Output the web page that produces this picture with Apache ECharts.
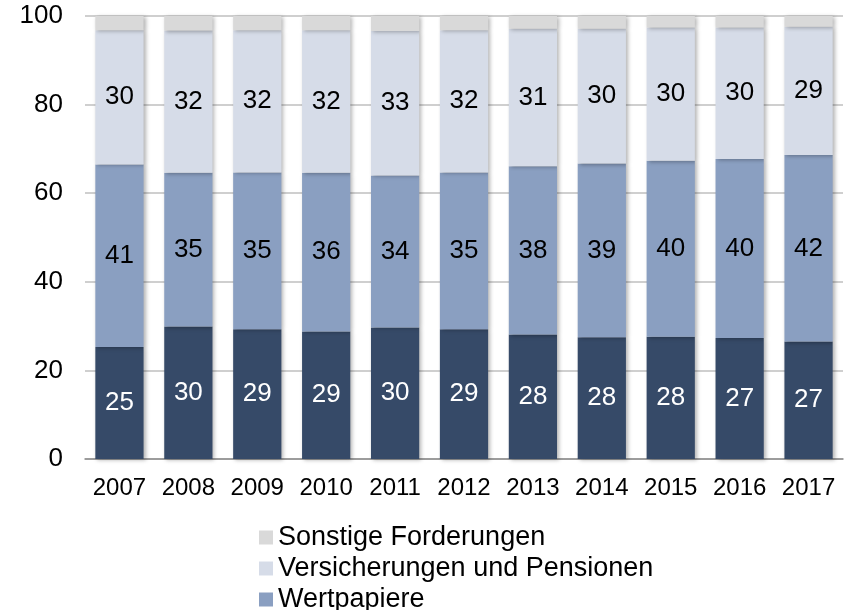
<!DOCTYPE html>
<html>
<head>
<meta charset="utf-8">
<script src="https://cdn.jsdelivr.net/npm/echarts@6/dist/echarts.min.js"></script>
<style>
  html, body { margin: 0; padding: 0; background: #fff; }
  #chart { width: 848px; height: 610px; }
</style>
</head>
<body>
<div id="chart"></div>
<script>
// Jahre
var years = ['2007', '2008', '2009', '2010', '2011', '2012', '2013', '2014', '2015', '2016', '2017'];

// Anteile in Prozent
var bargeld = [25.3, 29.9, 29.3, 28.8, 29.7, 29.3, 28.1, 27.5, 27.6, 27.3, 26.5];
var wertpapiere = [41.2, 34.7, 35.4, 35.8, 34.3, 35.4, 38.0, 39.2, 39.7, 40.4, 42.1];
var versicherungen = [30.3, 32.1, 32.1, 32.2, 32.6, 32.1, 31.0, 30.4, 30.1, 29.7, 29.0];
var sonstige = [3.2, 3.3, 3.2, 3.2, 3.4, 3.2, 2.9, 2.9, 2.6, 2.6, 2.4];

var yTicks = [0, 20, 40, 60, 80, 100];

var font = 'Liberation Sans, Arial, sans-serif';

var shadow = {
    shadowColor: 'rgba(0,0,0,0.3)',
    shadowBlur: 4,
    shadowOffsetX: 2,
    shadowOffsetY: 1
};

function makeSeries(name, data, color, labelColor, showLabel) {
    return {
        name: name,
        type: 'bar',
        stack: 'total',
        barWidth: '70%',
        data: data,
        itemStyle: Object.assign({ color: color }, shadow),
        label: {
            show: showLabel,
            position: 'inside',
            color: labelColor,
            fontFamily: font,
            fontSize: 26,
            formatter: function (p) { return Math.round(p.value); }
        },
        emphasis: { disabled: true }
    };
}

var chartDom = document.getElementById('chart');
var myChart = echarts.init(chartDom);
var option = {
    animation: false,
    grid: {
        left: 85,
        right: 5,
        top: 16,
        bottom: 151
    },
    legend: {
        orient: 'vertical',
        left: 259,
        top: 524,
        height: 200,
        padding: 0,
        icon: 'rect',
        itemWidth: 14,
        itemHeight: 14,
        itemGap: 4,
        selectedMode: false,
        textStyle: {
            fontFamily: font,
            fontSize: 27,
            lineHeight: 26,
            color: '#000'
        },
        data: ['Sonstige Forderungen', 'Versicherungen und Pensionen', 'Wertpapiere', 'Bargeld und Einlagen']
    },
    xAxis: {
        type: 'category',
        data: years,
        axisLine: { lineStyle: { color: '#8c8c8c', width: 1.5 } },
        axisTick: { show: false },
        axisLabel: {
            interval: 0,
            color: '#000',
            fontFamily: font,
            fontSize: 24,
            margin: 17
        }
    },
    yAxis: {
        type: 'value',
        min: yTicks[0],
        max: yTicks[yTicks.length - 1],
        interval: 20,
        axisLine: { show: false },
        axisTick: { show: false },
        splitLine: { lineStyle: { color: '#bfbfbf', width: 1.5 } },
        axisLabel: {
            color: '#000',
            fontFamily: font,
            fontSize: 26,
            margin: 22
        }
    },
    series: [
        makeSeries('Bargeld und Einlagen', bargeld, '#364a68', '#fff', true),
        makeSeries('Wertpapiere', wertpapiere, '#8a9fc1', '#000', true),
        makeSeries('Versicherungen und Pensionen', versicherungen, '#d6dce8', '#000', true),
        makeSeries('Sonstige Forderungen', sonstige, '#d9d9d9', '#000', false)
    ]
};

option && myChart.setOption(option);
</script>
</body>
</html>
